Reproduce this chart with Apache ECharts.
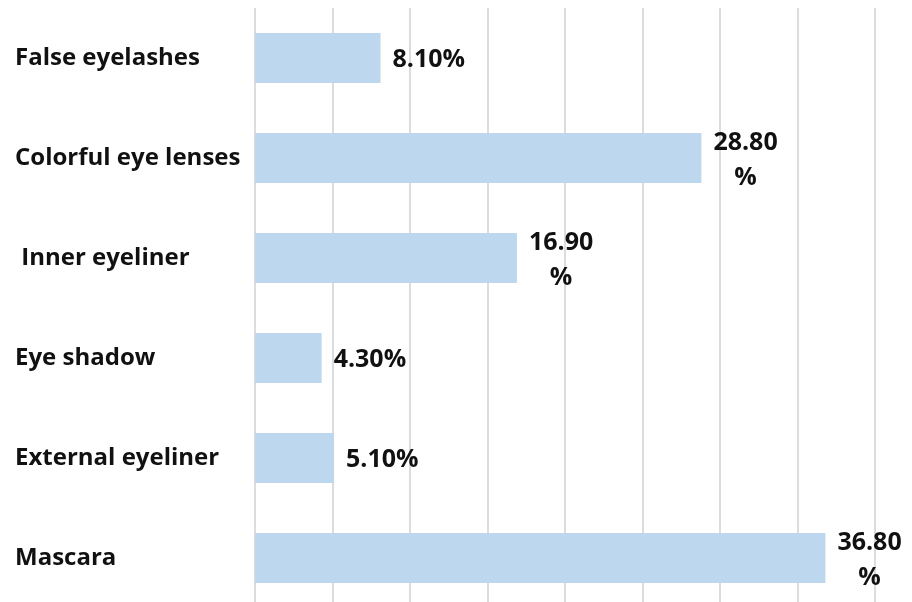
<!DOCTYPE html>
<html>
<head>
<meta charset="utf-8">
<script src="https://cdn.jsdelivr.net/npm/echarts@6/dist/echarts.min.js"></script>
<style>
html,body{margin:0;padding:0;background:#fff;}
#chart{width:912px;height:602px;}
</style>
</head>
<body>
<div id="chart"></div>
<script>
const categories = ['False eyelashes', 'Colorful eye lenses', ' Inner eyeliner', 'Eye shadow', 'External eyeliner', 'Mascara'];
const values = [8.1, 28.8, 16.9, 4.3, 5.1, 36.8];
const valueLabels = ['8.10%', '28.80\n%', '16.90\n%', '4.30%', '5.10%', '36.80\n%'];

const chart = echarts.init(document.getElementById('chart'));
const FONT = '"Open Sans", sans-serif';
chart.setOption({
  animation: false,
  backgroundColor: '#ffffff',
  grid: { left: 255, top: 8, width: 620, height: 600, containLabel: false, outerBoundsMode: 'none' },
  xAxis: {
    type: 'value', min: 0, max: 40, interval: 5,
    axisLine: { show: false }, axisTick: { show: false }, axisLabel: { show: false },
    splitLine: { show: true, lineStyle: { color: '#dcdcdc', width: 2 } }
  },
  yAxis: {
    type: 'category', inverse: true, data: categories,
    axisLine: { show: false }, axisTick: { show: false },
    axisLabel: { align: 'left', margin: 240, padding: [5, 0, 0, 0], color: '#111', fontFamily: FONT, fontWeight: 'bold', fontSize: 24 }
  },
  series: [{
    type: 'bar', data: values, barCategoryGap: '50%',
    itemStyle: { color: '#BDD7EE' },
    label: {
      show: true, position: 'right', distance: 12, offset: [0, 2],
      formatter: p => valueLabels[p.dataIndex].split('\n').map(s => '{v|' + s + '}').join('\n'),
      rich: { v: { align: 'center', color: '#111', fontFamily: FONT, fontWeight: 'bold', fontSize: 25, lineHeight: 35 } }
    }
  }]
});
</script>
</body>
</html>
